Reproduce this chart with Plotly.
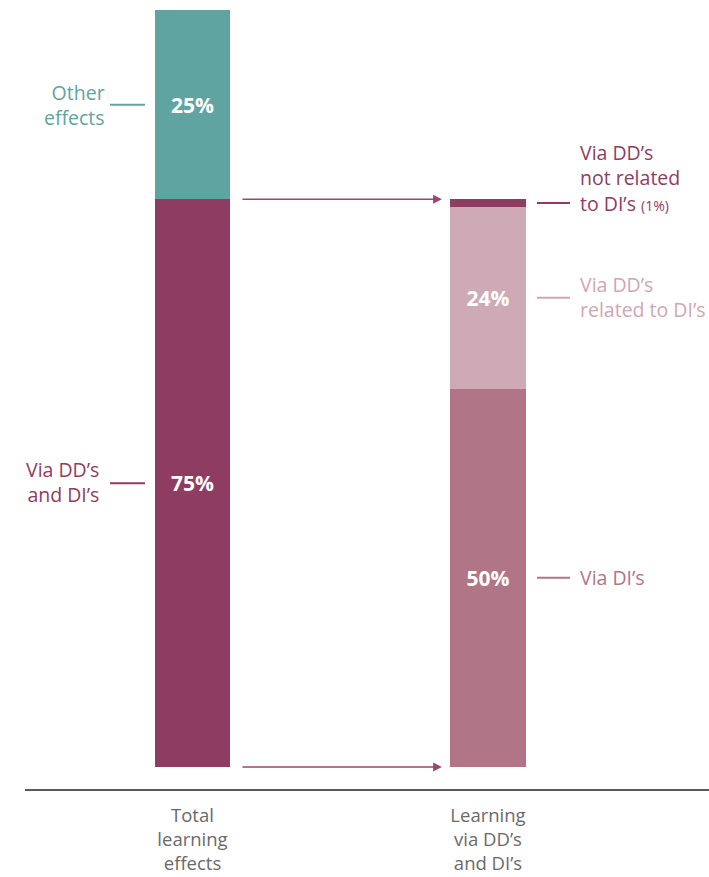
import plotly.graph_objects as go

# Stacked shares of learning effects (percent)
categories = ["Total<br>learning<br>effects", "Learning<br>via DD’s<br>and DI’s"]
segment_names = [
    "Via DD’s and DI’s",
    "Other effects",
    "Via DI’s",
    "Via DD’s related to DI’s",
    "Via DD’s not related to DI’s",
]
segment_category = [0, 0, 1, 1, 1]
segment_values = [75, 25, 50, 24, 1]
segment_show_text = [True, True, True, True, False]

TEAL = "#60a4a2"
PLUM = "#8f3c62"
ROSE = "#b07687"
BLUSH = "#cdaab6"
segment_colors = [PLUM, TEAL, ROSE, BLUSH, PLUM]
label_colors = [PLUM, TEAL, ROSE, "#cfa6b4", PLUM]

FONT = "Open Sans"
BAR_W = 0.257

fig = go.Figure()
for name, cat, val, show, col in zip(segment_names, segment_category, segment_values,
                                     segment_show_text, segment_colors):
    fig.add_trace(go.Bar(
        x=[cat], y=[val], name=name, width=BAR_W,
        marker=dict(color=col, line=dict(width=0)),
        text=[f"<b>{val}%</b>"] if show else None,
        textposition="inside", insidetextanchor="middle",
        textfont=dict(family=FONT, size=21, color="white"),
        hoverinfo="skip", showlegend=False,
    ))

# Cumulative midpoints of each segment, for leader lines
mids = []
running = {0: 0, 1: 0}
for cat, val in zip(segment_category, segment_values):
    mids.append(running[cat] + val / 2)
    running[cat] += val

shapes = []
annotations = []
LEFT_LINE = (-0.2792, -0.1607)
RIGHT_LINE = (1.1658, 1.2775)
LEFT_TEXT_X = [-0.3080, -0.2910, 0, 0, 0]
RIGHT_TEXT_X = 1.305

side_labels = [
    "Via DD’s<br>and DI’s",
    "Other<br>effects",
    "Via DI’s",
    "Via DD’s<br>related to DI’s",
    "Via DD’s<br>not related<br>to DI’s <span style='font-size:14px'>(1%)</span>",
]
label_yshift = [1, 0, 0, 1, 25]

for i, (cat, mid) in enumerate(zip(segment_category, mids)):
    x0, x1 = LEFT_LINE if cat == 0 else RIGHT_LINE
    shapes.append(dict(type="line", xref="x", yref="y", x0=x0, x1=x1, y0=mid, y1=mid,
                       line=dict(color=label_colors[i], width=2)))
    annotations.append(dict(
        x=LEFT_TEXT_X[i] if cat == 0 else RIGHT_TEXT_X, y=mid, xref="x", yref="y",
        text=side_labels[i], showarrow=False,
        xanchor="right" if cat == 0 else "left",
        align="right" if cat == 0 else "left",
        yanchor="middle", yshift=label_yshift[i],
        font=dict(family=FONT, size=19.5, color=label_colors[i]),
    ))

# Arrows linking the DD/DI share of the total to the breakdown bar
arrow_levels = [0, segment_values[0]]
for lvl in arrow_levels:
    annotations.append(dict(
        x=0.844, y=lvl, ax=0.164, ay=lvl, xref="x", yref="y", axref="x", ayref="y",
        text="", showarrow=True, arrowhead=2, arrowsize=1.1, arrowwidth=1.6,
        arrowcolor="#9a4670",
    ))

fig.update_layout(
    barmode="stack",
    width=709, height=877,
    margin=dict(l=25, r=0, t=10, b=88),
    paper_bgcolor="white", plot_bgcolor="white",
    shapes=shapes, annotations=annotations,
    xaxis=dict(
        range=[-0.5668, 1.7479], tickvals=[0, 1], ticktext=categories,
        showgrid=False, zeroline=False, showline=True, linecolor="#5a5a5a", linewidth=2,
        ticks="", tickfont=dict(family=FONT, size=18.5, color="#6a6a6a"),
        ticklabelstandoff=9, automargin=False,
    ),
    yaxis=dict(range=[-2.906, 100], visible=False, showgrid=False, zeroline=False,
               automargin=False),
)

fig.write_html("out.html")
